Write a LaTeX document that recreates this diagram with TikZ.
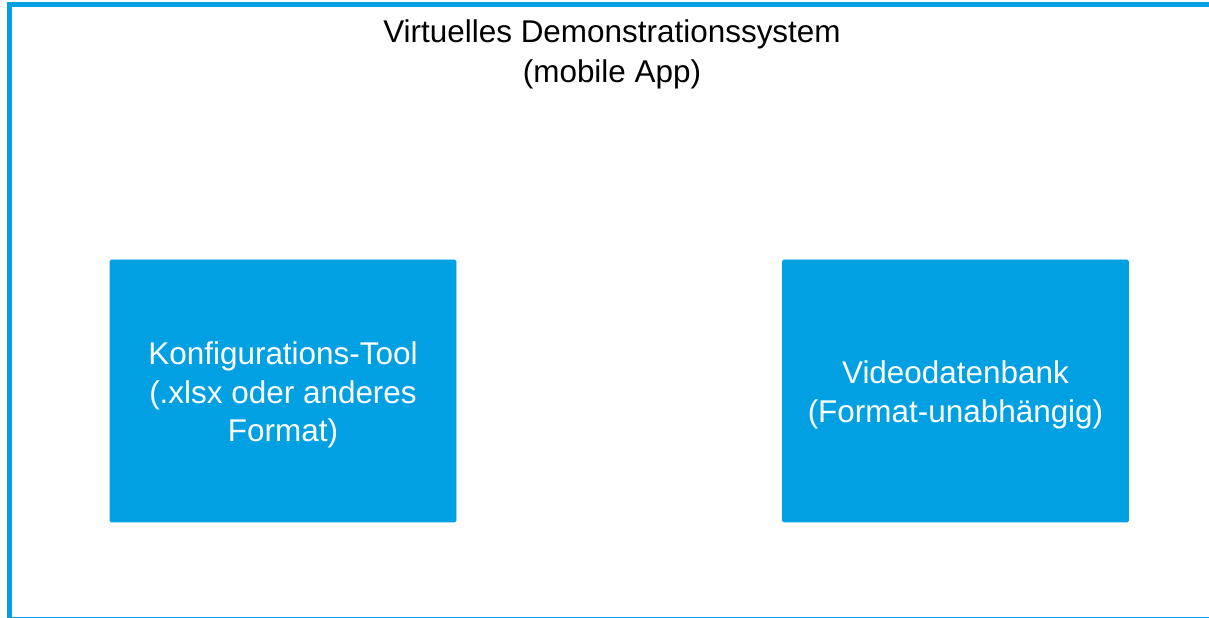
\documentclass[tikz,border=0pt]{standalone}
\usepackage{fontspec}
\setmainfont{Liberation Sans}
\definecolor{appblue}{HTML}{00A0E3}
\tikzset{
  modulebox/.style={fill=appblue, draw=appblue, rounded corners=0.8pt, minimum width=6.92cm, minimum height=5.24cm, text=white, align=center, font=\fontsize{17.9}{21.9}\selectfont},
  frametitle/.style={align=center, font=\fontsize{17.9}{22.7}\selectfont}
}

\begin{document}
\begin{tikzpicture}
    \useasboundingbox (0,0) rectangle (24.18,12.36);
    % App frame
    \draw[appblue, line width=2.85pt] (24.4,-0.03) -- (0.19,-0.03) -- (0.19,12.26) -- (24.4,12.26);
    \node[frametitle] (app) at (12.24,11.27) {Virtuelles Demonstrationssystem\\(mobile App)};

    % Modules
    \node[modulebox] (config) at (5.66,4.54) {\rule{0pt}{17.5pt}Konfigurations-Tool\\(.xlsx oder anderes\\Format)};
    \node[modulebox] (videodb) at (19.11,4.54) {\rule{0pt}{17.5pt}Videodatenbank\\(Format-unabhängig)};
\end{tikzpicture}
\end{document}
